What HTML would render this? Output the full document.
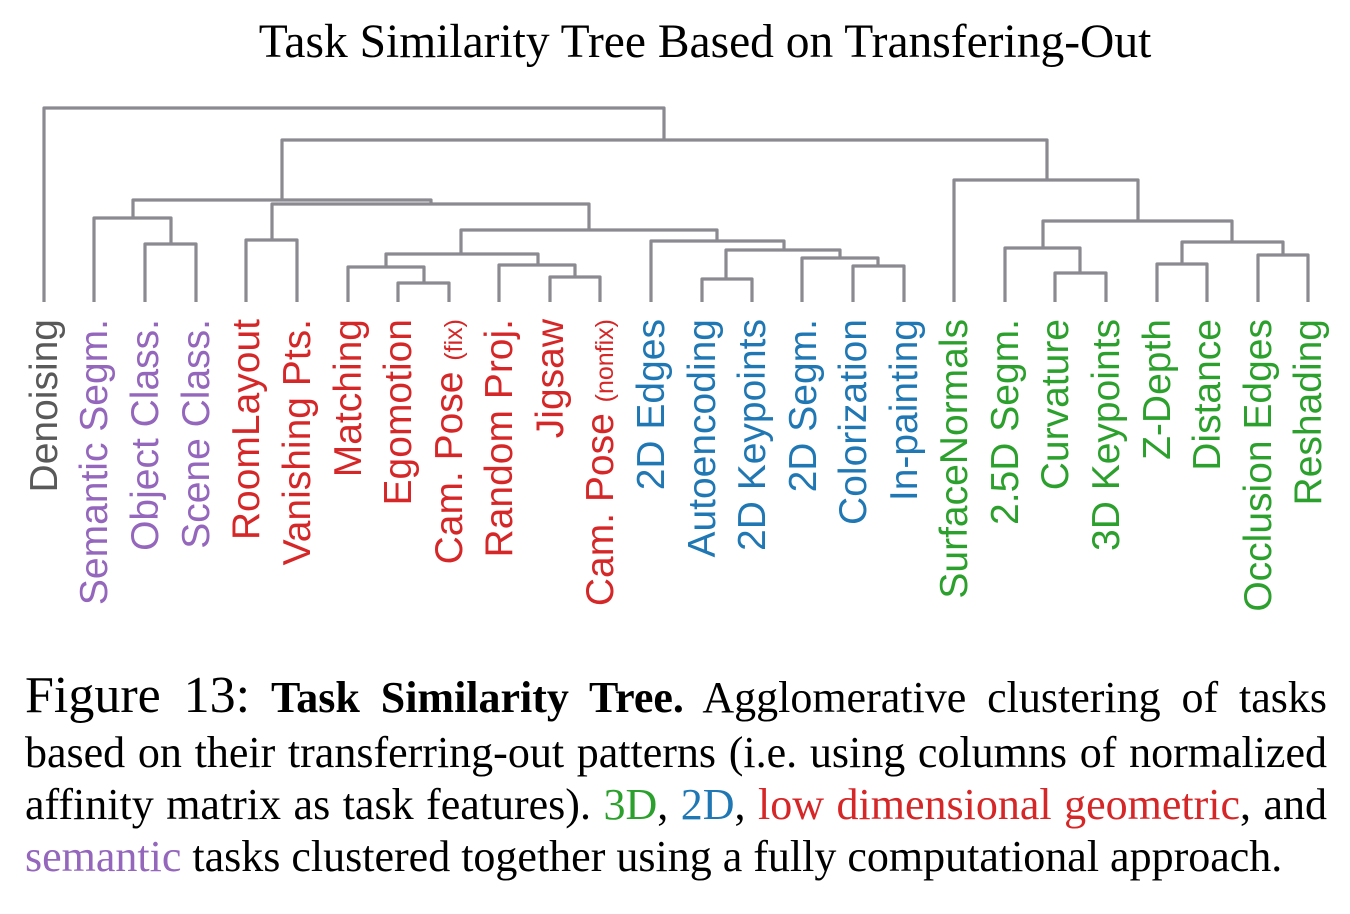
<!DOCTYPE html>
<html><head><meta charset="utf-8"><style>
body{margin:0;background:#fff;width:1350px;height:914px;overflow:hidden;position:relative}
.cap{position:absolute;left:25px;width:1302px;font-family:"Liberation Serif",serif;font-size:44px;color:#000;text-align:justify;text-align-last:justify;white-space:nowrap;line-height:52px}
</style></head><body>
<svg width="1350" height="640" style="position:absolute;left:0;top:0" xmlns="http://www.w3.org/2000/svg">
<text x="705" y="57" text-anchor="middle" font-family="Liberation Serif, serif" font-size="47.5">Task Similarity Tree Based on Transfering-Out</text>
<g fill="none" stroke="#8a8a90" stroke-width="3.2" stroke-linejoin="round">
<path d="M44 302V108H664V140"/>
<path d="M282 200V140H1047V180"/>
<path d="M133 218V200H431V204"/>
<path d="M94 302V218H171V244"/>
<path d="M145 302V244H196V302"/>
<path d="M272 240V204H589V230"/>
<path d="M246 302V240H297V302"/>
<path d="M461 254V230H717V241"/>
<path d="M386 267V254H538V265"/>
<path d="M348 302V267H424V283"/>
<path d="M398 302V283H449V302"/>
<path d="M499 302V265H575V277"/>
<path d="M550 302V277H600V302"/>
<path d="M651 302V241H784V250"/>
<path d="M726 279V250H840V258"/>
<path d="M702 302V279H752V302"/>
<path d="M802 302V258H878V266"/>
<path d="M853 302V266H904V302"/>
<path d="M954 302V180H1138V221"/>
<path d="M1043 248V221H1232V242"/>
<path d="M1005 302V248H1080V273"/>
<path d="M1055 302V273H1106V302"/>
<path d="M1182 264V242H1283V255"/>
<path d="M1157 302V264H1207V302"/>
<path d="M1258 302V255H1308V302"/>
</g>
<g font-family="Liberation Sans, sans-serif" font-size="39" text-anchor="end">
<text transform="translate(57,319) rotate(-90)" fill="#595959">Denoising</text>
<text transform="translate(107,319) rotate(-90)" fill="#9467bd">Semantic Segm.</text>
<text transform="translate(158,319) rotate(-90)" fill="#9467bd">Object Class.</text>
<text transform="translate(209,319) rotate(-90)" fill="#9467bd">Scene Class.</text>
<text transform="translate(259,319) rotate(-90)" fill="#d62728">RoomLayout</text>
<text transform="translate(310,319) rotate(-90)" fill="#d62728">Vanishing Pts.</text>
<text transform="translate(361,319) rotate(-90)" fill="#d62728">Matching</text>
<text transform="translate(411,319) rotate(-90)" fill="#d62728">Egomotion</text>
<text transform="translate(462,319) rotate(-90)" fill="#d62728">Cam. Pose <tspan font-size="25">(fix)</tspan></text>
<text transform="translate(512,319) rotate(-90)" fill="#d62728">Random Proj.</text>
<text transform="translate(563,319) rotate(-90)" fill="#d62728">Jigsaw</text>
<text transform="translate(613,319) rotate(-90)" fill="#d62728">Cam. Pose <tspan font-size="25">(nonfix)</tspan></text>
<text transform="translate(664,319) rotate(-90)" fill="#1f77b4">2D Edges</text>
<text transform="translate(715,319) rotate(-90)" fill="#1f77b4">Autoencoding</text>
<text transform="translate(765,319) rotate(-90)" fill="#1f77b4">2D Keypoints</text>
<text transform="translate(816,319) rotate(-90)" fill="#1f77b4">2D Segm.</text>
<text transform="translate(866,319) rotate(-90)" fill="#1f77b4">Colorization</text>
<text transform="translate(917,319) rotate(-90)" fill="#1f77b4">In-painting</text>
<text transform="translate(967,319) rotate(-90)" fill="#2ca02c">SurfaceNormals</text>
<text transform="translate(1018,319) rotate(-90)" fill="#2ca02c">2.5D Segm.</text>
<text transform="translate(1068,319) rotate(-90)" fill="#2ca02c">Curvature</text>
<text transform="translate(1119,319) rotate(-90)" fill="#2ca02c">3D Keypoints</text>
<text transform="translate(1170,319) rotate(-90)" fill="#2ca02c">Z-Depth</text>
<text transform="translate(1220,319) rotate(-90)" fill="#2ca02c">Distance</text>
<text transform="translate(1271,319) rotate(-90)" fill="#2ca02c">Occlusion Edges</text>
<text transform="translate(1321,319) rotate(-90)" fill="#2ca02c">Reshading</text>
</g>
</svg>
<div class="cap" style="top:670px"><span style="font-size:52px">Figure 13:</span> <b>Task Similarity Tree.</b> Agglomerative clustering of tasks</div>
<div class="cap" style="top:727px">based on their transferring-out patterns (i.e. using columns of normalized</div>
<div class="cap" style="top:779px">affinity matrix as task features). <span style="color:#2ca02c">3D</span>, <span style="color:#1f77b4">2D</span>, <span style="color:#d62728">low dimensional geometric</span>, and</div>
<div class="cap" style="top:831px;text-align-last:left;width:auto"><span style="color:#9467bd">semantic</span> tasks clustered together using a fully computational approach.</div>
</body></html>
